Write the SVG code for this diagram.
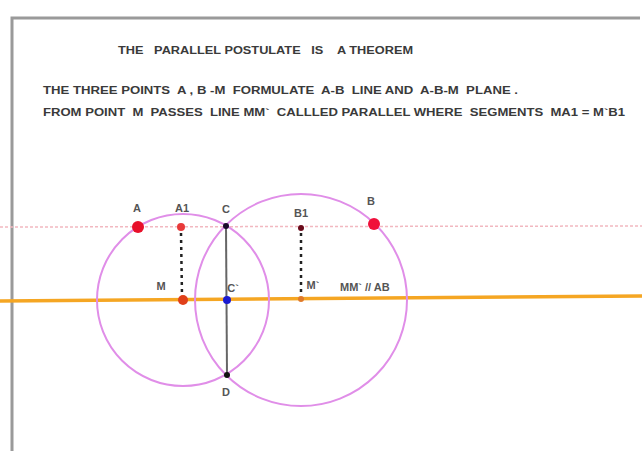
<svg xmlns="http://www.w3.org/2000/svg" width="642" height="451" viewBox="0 0 642 451">
<style>
.t{font-family:"Liberation Sans",Arial,sans-serif;font-weight:bold;fill:#3a3a3a;font-size:11px;white-space:pre}
.l{font-family:"Liberation Sans",Arial,sans-serif;font-weight:bold;fill:#555;font-size:11px;text-anchor:middle}
.circ{fill:none;stroke:#e08ee8;stroke-width:2}
</style>
<rect width="642" height="451" fill="#fff"/>
<path d="M12 451 V18 H640" fill="none" stroke="#9a9a9a" stroke-width="3"/>
<text class="t" x="118" y="54" textLength="295" lengthAdjust="spacingAndGlyphs">THE   PARALLEL POSTULATE   IS    A THEOREM</text>
<text class="t" x="43" y="94" textLength="475" lengthAdjust="spacingAndGlyphs">THE THREE POINTS  A , B -M  FORMULATE  A-B  LINE AND  A-B-M  PLANE .</text>
<text class="t" x="43" y="116" textLength="582" lengthAdjust="spacingAndGlyphs">FROM POINT  M  PASSES  LINE MM`  CALLLED PARALLEL WHERE  SEGMENTS  MA1 = M`B1</text>
<g id="connectors">
<line x1="0" y1="227" x2="642" y2="226" stroke="#f2b8c0" stroke-width="1.5" stroke-dasharray="3 2"/>
<line x1="0" y1="301" x2="642" y2="296" stroke="#f5a623" stroke-width="3.5"/>
<circle class="circ" cx="183" cy="300" r="86"/>
<circle class="circ" cx="301" cy="300" r="106"/>
<line x1="226" y1="226" x2="227" y2="375" stroke="#666" stroke-width="2"/>
<line x1="181" y1="233" x2="182" y2="296" stroke="#222" stroke-width="2.5" stroke-dasharray="3 4"/>
<line x1="301" y1="233" x2="301" y2="296" stroke="#222" stroke-width="2.5" stroke-dasharray="3 4"/>
</g>
<g id="A"><circle cx="138" cy="227" r="6" fill="#e8102a"/><text class="l" x="137" y="212">A</text></g>
<g id="A1"><circle cx="181" cy="227" r="4" fill="#e83a3a"/><text class="l" x="182" y="212">A1</text></g>
<g id="C"><circle cx="226" cy="226" r="3" fill="#1a0a2a"/><text class="l" x="226" y="213">C</text></g>
<g id="B1"><circle cx="301" cy="228" r="3" fill="#6a0a1a"/><text class="l" x="301" y="217">B1</text></g>
<g id="B"><circle cx="374" cy="224" r="6" fill="#f0103a"/><text class="l" x="371" y="205">B</text></g>
<g id="M"><circle cx="183" cy="300" r="5" fill="#e0401a"/><text class="l" x="161" y="290">M</text></g>
<g id="Cp"><circle cx="227" cy="300" r="4" fill="#1a1ad0"/><text class="l" x="233" y="292">C`</text></g>
<g id="Mp"><circle cx="301" cy="299" r="3" fill="#e07a2a"/><text class="l" x="313" y="289">M`</text></g>
<g id="label"><text class="t" x="340" y="291" style="fill:#555">MM` // AB</text></g>
<g id="D"><circle cx="227" cy="375" r="3" fill="#111"/><text class="l" x="226" y="396">D</text></g>
</svg>
